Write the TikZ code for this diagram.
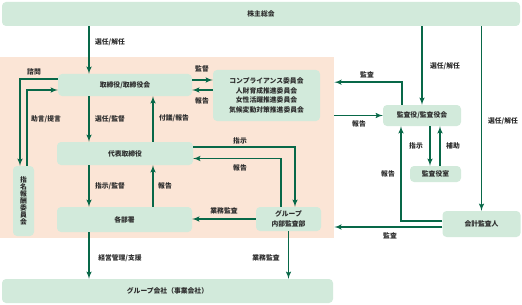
\documentclass[tikz,border=0pt]{standalone}
\usepackage{fontspec}
\setmainfont{Noto Sans CJK JP}
\usepackage{tikz}
\usetikzlibrary{arrows}
\definecolor{boxgreen}{RGB}{210,234,219}
\definecolor{linegreen}{RGB}{8,104,72}
\definecolor{peach}{RGB}{251,229,214}
\definecolor{textgray}{RGB}{45,45,45}
\tikzset{box/.style = {shape = rectangle, rounded corners = 4pt, fill = boxgreen, text = textgray, inner sep = 0pt, align = center, font = \fontsize{6.8}{9.7}\selectfont\bfseries}}
\tikzset{edge/.style = {->, > = latex', line width = 1.5pt, draw = linegreen}}
\tikzset{tag/.style = {text = textgray, inner sep = 0pt, font = \fontsize{6.8}{8}\selectfont\bfseries}}

\begin{document}
\begin{tikzpicture}[x = 1pt, y = -1pt]
			\useasboundingbox (0, 0) rectangle (522, 305);
			\node[fill = peach, minimum width = 334pt, minimum height = 181pt, inner sep = 0pt, anchor = north west] (zone) at (0, 57) {};

			\node[box, minimum width = 518pt, minimum height = 24pt] (gm) at (261, 14) {株主総会};
			\node[box, minimum width = 134pt, minimum height = 22pt] (board) at (125, 85) {取締役/取締役会};
			\node[box, minimum width = 107pt, minimum height = 51pt] (comm) at (266.5, 95.5) {コンプライアンス委員会\\人財育成推進委員会\\女性活躍推進委員会\\気候変動対策推進委員会};
			\node[box, minimum width = 136pt, minimum height = 23pt] (rep) at (125, 153.5) {代表取締役};
			\node[box, minimum width = 135pt, minimum height = 25pt] (dept) at (124.5, 219.5) {各部署};
			\node[box, minimum width = 65pt, minimum height = 24pt] (iad) at (288.5, 219) {グループ\\内部監査部};
			\node[box, minimum width = 331pt, minimum height = 24pt] (grp) at (167.5, 291) {グループ会社（事業会社）};
			\node[box, minimum width = 21pt, minimum height = 70pt, font = \fontsize{6.8}{7}\selectfont\bfseries] (nom) at (23.5, 201) {指\\名\\報\\酬\\委\\員\\会};
			\node[box, minimum width = 78pt, minimum height = 21pt] (kab) at (422, 115.5) {監査役/監査役会};
			\node[box, minimum width = 51pt, minimum height = 16pt] (kabs) at (435.5, 174) {監査役室};
			\node[box, minimum width = 78pt, minimum height = 26pt] (acc) at (481.5, 224) {会計監査人};

			\coordinate (laneA) at (89, 0);
			\coordinate (laneB) at (153, 0);

			\draw[edge] (laneA |- gm.south) -- (laneA |- board.north);
			\draw[edge] ([yshift = 5pt]board.east) -- ([yshift = 5pt]board.east -| comm.west);
			\draw[edge] ([yshift = -5pt]board.east -| comm.west) -- ([yshift = -5pt]board.east);
			\draw[edge] (laneA |- board.south) -- (laneA |- rep.north);
			\draw[edge] (laneB |- rep.north) -- (laneB |- board.south);
			\draw[edge] (laneA |- rep.south) -- (laneA |- dept.north);
			\draw[edge] (laneB |- dept.north) -- (laneB |- rep.south);
			\draw[edge] ([yshift = 6.5pt]rep.east) -| ([xshift = 6.5pt]iad.north);
			\draw[edge] ([xshift = -7.5pt]iad.north) |- ([yshift = -5pt]rep.east);
			\draw[edge] (iad.west) -- (iad.west -| dept.east);
			\draw[edge] (laneA |- dept.south) -- (laneA |- grp.north);
			\draw[edge] (iad.south) -- (iad.south |- grp.north);
			\draw[edge] ([yshift = 6pt]board.west) -| ([xshift = -3.5pt]nom.north);
			\draw[edge] ([xshift = 3.5pt]nom.north) |- ([yshift = -5pt]board.west);

			\draw[edge] (gm.south -| kab.north) -- (kab.north);
			\draw[edge] (gm.south -| acc.north) -- (acc.north);
			\draw[edge] ([xshift = -20pt]kab.north) |- ([yshift = 65.5pt]zone.east);
			\draw[edge] (zone.east |- kab.west) -- (kab.west);
			\draw[edge] ([xshift = 8pt]kab.south) -- ([xshift = 8pt]kab.south |- kabs.north);
			\draw[edge] ([xshift = 18pt]kab.south |- kabs.north) -- ([xshift = 18pt]kab.south);
			\draw[edge] ([yshift = 3pt]acc.west) -| ([xshift = -21pt]kab.south);
			\draw[edge] ([yshift = -3pt]acc.west) -- ([yshift = -3pt]acc.west -| zone.east);

			\node[tag] (t1) at (110, 42) {選任/解任};
			\node[tag] (t2) at (202, 69) {監督};
			\node[tag] (t3) at (202, 101) {報告};
			\node[tag] (t4) at (110, 119) {選任/監督};
			\node[tag] (t5) at (174, 118) {付議/報告};
			\node[tag] (t6) at (110, 186) {指示/監督};
			\node[tag] (t7) at (165, 186) {報告};
			\node[tag] (t8) at (240, 141) {指示};
			\node[tag] (t9) at (240, 168) {報告};
			\node[tag] (t10) at (224, 211) {業務監査};
			\node[tag] (t11) at (120, 258) {経営管理/支援};
			\node[tag] (t12) at (266, 258) {業務監査};
			\node[tag] (t13) at (34, 72) {諮問};
			\node[tag] (t14) at (46, 119) {助言/提言};
			\node[tag] (t15) at (445, 66) {選任/解任};
			\node[tag] (t16) at (503, 121) {選任/解任};
			\node[tag] (t17) at (367, 75) {監査};
			\node[tag] (t18) at (359, 124) {報告};
			\node[tag] (t19) at (416, 146) {指示};
			\node[tag] (t20) at (453, 146) {補助};
			\node[tag] (t21) at (388, 174) {報告};
			\node[tag] (t22) at (390, 236) {監査};
		\end{tikzpicture}
\end{document}
